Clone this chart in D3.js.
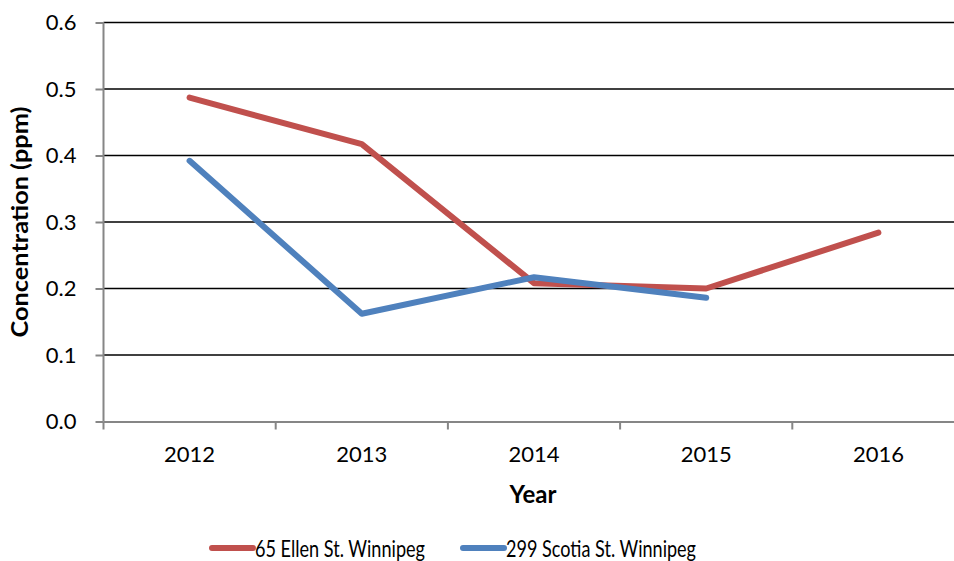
<!DOCTYPE html>
<html>
<head>
<meta charset="utf-8">
<script src="https://cdn.jsdelivr.net/npm/d3@7"></script>
<style>
	body { margin: 0; background: #fff; }
	svg { display: block; font-family: Lato, "Open Sans", sans-serif; }
</style>
</head>
<body>
<svg id="chart"></svg>
<script>
	var years = ["2012", "2013", "2014", "2015", "2016"];
	var ellen = [0.487, 0.417, 0.208, 0.200, 0.284];
	var scotia = [0.392, 0.162, 0.217, 0.186, null];
	var yticks = [0, 0.1, 0.2, 0.3, 0.4, 0.5, 0.6];

	var series = [
		{ name: "65 Ellen St. Winnipeg", values: ellen, color: "#C0504D" },
		{ name: "299 Scotia St. Winnipeg", values: scotia, color: "#4F81BD" }
	];

	var w = 954, h = 561;
	// plot runs past the right edge in the original (cropped)
	var xrange = [103.5, 964.5];
	var yrange = [421.5, 22.5];

	var svg = d3.select("#chart").attr("width", w).attr("height", h);

	var xscale = d3.scaleBand().domain(years).range(xrange);
	var yscale = d3.scaleLinear().domain([0, 0.6]).range(yrange);

	// gridlines
	svg.selectAll("line.grid")
		.data(yticks.filter(function(d){ return d > 0; }))
		.enter().append("line")
			.attr("class", "grid")
			.attr("x1", xrange[0])
			.attr("x2", xrange[1])
			.attr("y1", function(d){ return yscale(d); })
			.attr("y2", function(d){ return yscale(d); })
			.attr("stroke", "#000")
			.attr("stroke-width", 1.6);

	// y axis
	var yaxis = d3.axisLeft(yscale)
		.tickValues(yticks)
		.tickSize(8)
		.tickPadding(19)
		.tickFormat(d3.format(".1f"));
	var gy = svg.append("g")
		.attr("transform", "translate(" + xrange[0] + ",0)")
		.call(yaxis);

	// x axis
	var xaxis = d3.axisBottom(xscale).tickSize(0).tickPadding(25);
	var gx = svg.append("g")
		.attr("transform", "translate(0," + yrange[0] + ")")
		.call(xaxis);

	// x tick marks sit on band edges
	gx.selectAll("line.edge")
		.data(years)
		.enter().append("line")
			.attr("class", "edge")
			.attr("x1", function(d){ return xscale(d); })
			.attr("x2", function(d){ return xscale(d); })
			.attr("y1", 0)
			.attr("y2", 8)
			.attr("stroke", "#868686")
			.attr("stroke-width", 2);

	[gx, gy].forEach(function(g){
		g.select(".domain").attr("stroke", "#868686").attr("stroke-width", 2);
		g.selectAll(".tick line").attr("stroke", "#868686").attr("stroke-width", 2);
		g.selectAll(".tick text")
			.attr("fill", "#000")
			.style("font-size", "22px")
			.style("font-family", "Lato, 'Open Sans', sans-serif");
	});
	gy.select(".domain").attr("d", "M0," + yrange[0] + "V" + yrange[1]);

	// lines
	var line = d3.line()
		.defined(function(d){ return d != null; })
		.x(function(d, i){ return xscale(years[i]) + xscale.bandwidth() / 2; })
		.y(function(d){ return yscale(d); });

	svg.selectAll("path.series")
		.data(series)
		.enter().append("path")
			.attr("class", "series")
			.attr("fill", "none")
			.attr("stroke", function(d){ return d.color; })
			.attr("stroke-width", 6)
			.attr("stroke-linejoin", "round")
			.attr("stroke-linecap", "round")
			.attr("d", function(d){ return line(d.values); });

	// axis titles
	svg.append("text")
		.attr("x", 533)
		.attr("y", 503)
		.attr("text-anchor", "middle")
		.style("font-size", "24px")
		.style("font-weight", "bold")
		.text("Year");

	svg.append("text")
		.attr("transform", "translate(28,222) rotate(-90)")
		.attr("text-anchor", "middle")
		.attr("textLength", 231)
		.attr("lengthAdjust", "spacingAndGlyphs")
		.style("font-size", "23px")
		.style("font-weight", "bold")
		.text("Concentration (ppm)");

	// legend
	var legendX = [212, 463];
	var legendLen = [170, 190];
	var lg = svg.selectAll("g.legend")
		.data(series)
		.enter().append("g")
			.attr("class", "legend")
			.attr("transform", function(d, i){ return "translate(" + legendX[i] + ",548)"; });
	lg.append("line")
		.attr("x1", 0).attr("x2", 41)
		.attr("stroke", function(d){ return d.color; })
		.attr("stroke-width", 6)
		.attr("stroke-linecap", "round");
	lg.append("text")
		.attr("x", 43)
		.attr("y", 8.5)
		.attr("textLength", function(d, i){ return legendLen[i]; })
		.attr("lengthAdjust", "spacingAndGlyphs")
		.style("font-size", "24px")
		.text(function(d){ return d.name; });
</script>
</body>
</html>
